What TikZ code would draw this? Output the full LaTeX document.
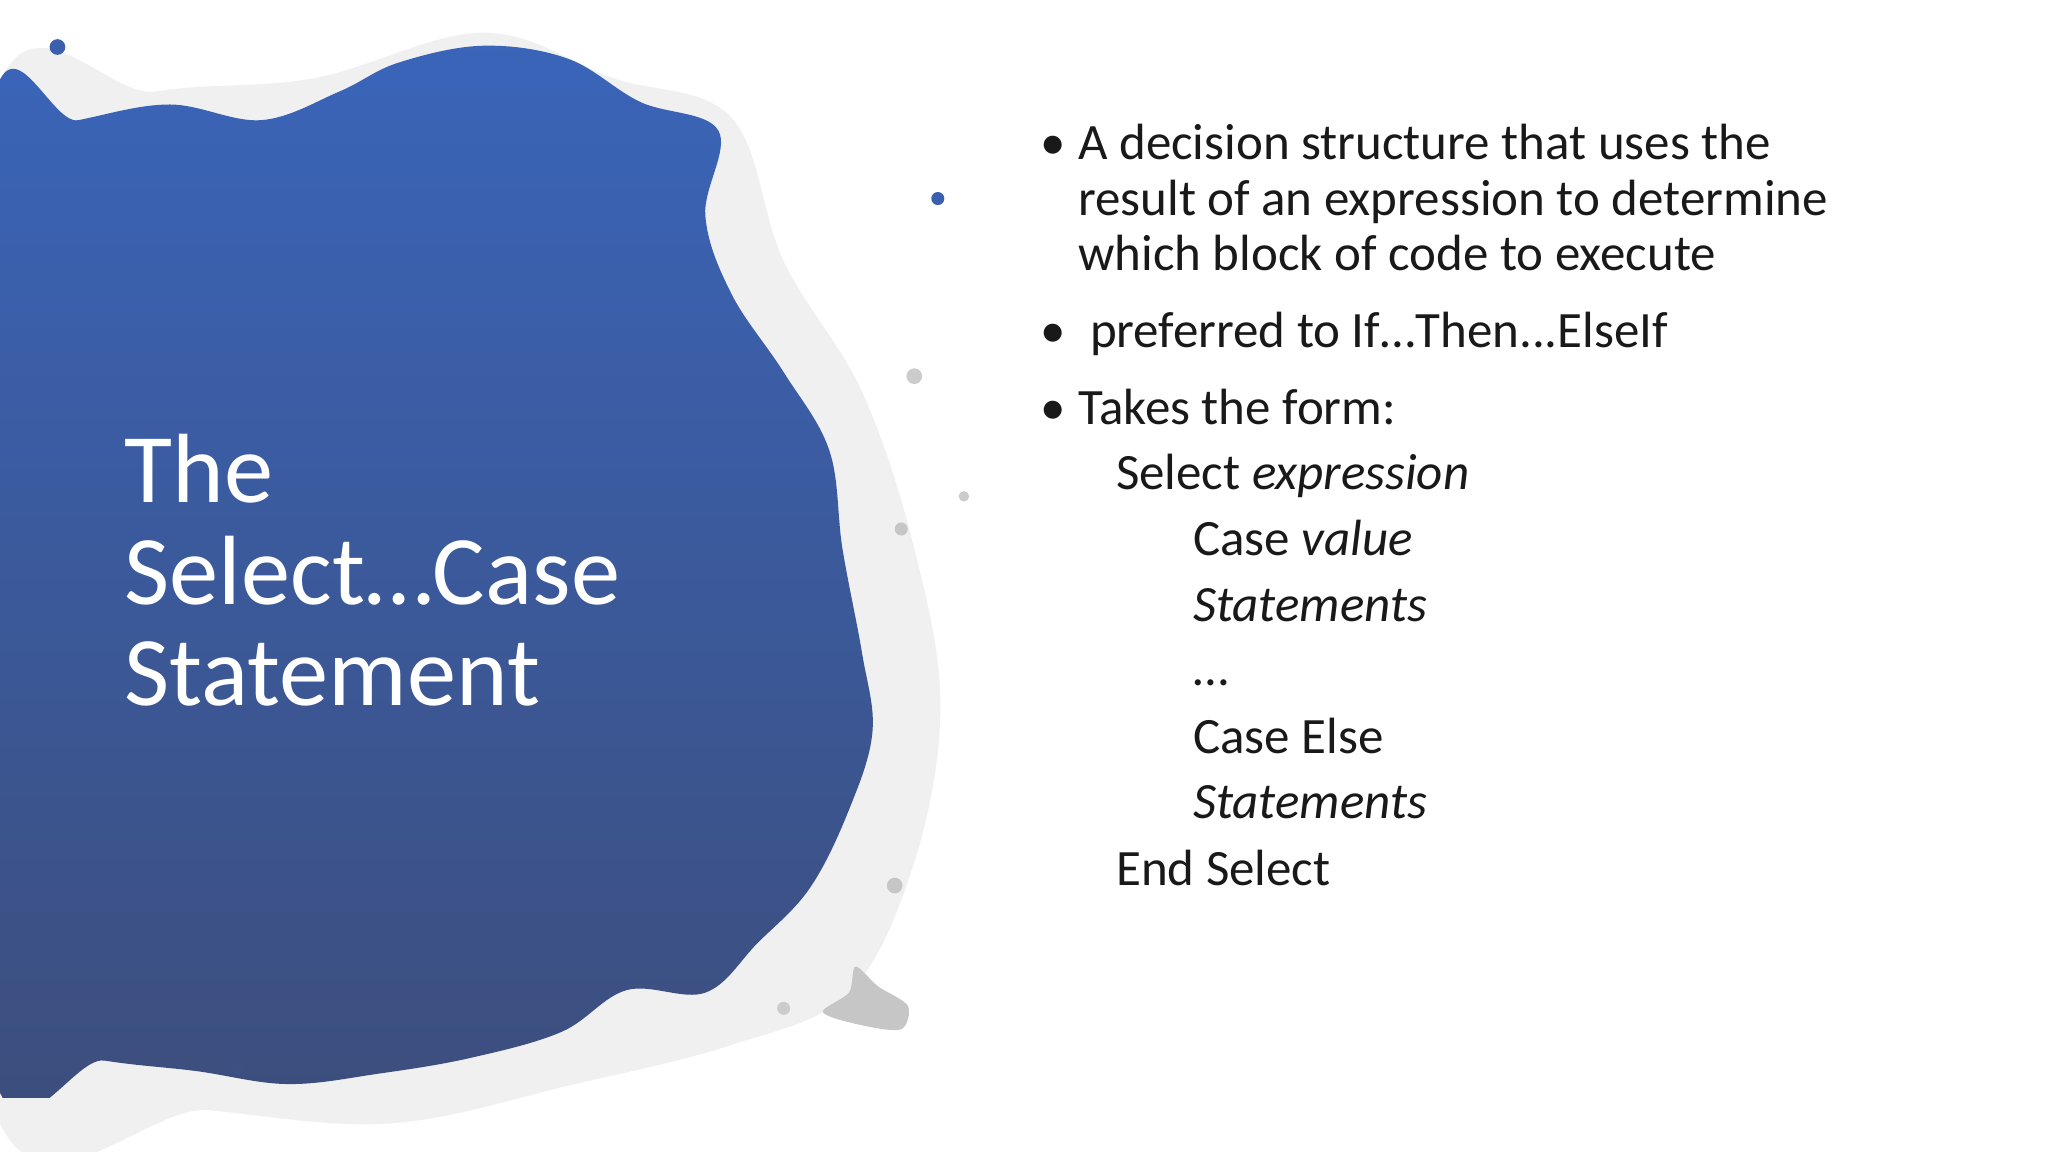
\documentclass[tikz,border=0pt]{standalone}
\usepackage{fontspec}
\setmainfont{Carlito}
\definecolor{blobtop}{RGB}{58,101,186}
\definecolor{blobbot}{RGB}{60,78,125}
\definecolor{splatblue}{RGB}{58,95,175}
\definecolor{splatdark}{RGB}{60,80,130}
\begin{document}
\begin{tikzpicture}[x=0.013061cm,y=-0.013061cm,
  bodytxt/.style={anchor=base west,inner sep=0pt,font=\fontsize{14.5pt}{16pt}\selectfont,text=black!90},
  titletxt/.style={anchor=base west,inner sep=0pt,font=\fontsize{28pt}{30pt}\selectfont,text=white}]
\useasboundingbox (0,0) rectangle (1568,882);
\fill[white] (0,0) rectangle (1568,882);
% grey halo
\fill[gray!12] plot[smooth cycle,tension=0.6] coordinates {(-10,100)(120,70)(240,60)(370,25)(470,60)(560,90)(600,200)(660,300)(700,420)(720,540)(700,660)(650,760)(560,800)(440,830)(300,860)(160,850)(-10,830)};
% blob
\begin{scope}
\clip plot[smooth cycle,tension=0.6] coordinates {(-10,108)(60,92)(130,80)(200,92)(260,70)(305,48)(370,35)(435,45)(490,78)(550,100)(540,165)(560,225)(600,285)(635,345)(645,420)(660,500)(668,560)(650,620)(620,680)(580,722)(540,760)(480,758)(430,790)(360,810)(290,822)(220,830)(150,820)(80,812)(-10,795)};
\shade[top color=blobtop,bottom color=blobbot] (-20,20) rectangle (700,840);
\end{scope}
% splatter
\fill[splatblue] (44,36) circle (6);
\fill[splatblue] (718,152) circle (5);
\fill[splatdark] (182,818) circle (5);
\fill[gray!45] (685,678) circle (6);
\fill[gray!45] (690,405) circle (5);
\fill[gray!40] (700,288) circle (6);
\fill[gray!40] (738,380) circle (4);
\fill[gray!40] (600,772) circle (5);
\fill[gray!45] plot[smooth cycle] coordinates {(655,740)(672,755)(695,770)(690,788)(660,785)(630,775)(650,760)};
% title
\node[titletxt] (t1) at (95,385) {The};
\node[titletxt] (t2) at (95,463) {Select…Case};
\node[titletxt] (t3) at (95,540) {Statement};
% bullets
\node[bodytxt] (b1) at (796,122) {•};
\node[bodytxt] (l1) at (825,122) {A decision structure that uses the};
\node[bodytxt] (l2) at (825,165) {result of an expression to determine};
\node[bodytxt] (l3) at (825,207) {which block of code to execute};
\node[bodytxt] (b2) at (796,266) {•};
\node[bodytxt] (l4) at (834,266) {preferred to If…Then...ElseIf};
\node[bodytxt] (b3) at (796,325) {•};
\node[bodytxt] (l5) at (825,325) {Takes the form:};
\node[bodytxt] (c1) at (854,375) {Select \textit{expression}};
\node[bodytxt] (c2) at (913,425) {Case \textit{value}};
\node[bodytxt] (c3) at (913,476) {\textit{Statements}};
\node[bodytxt] (c4) at (913,525) {…};
\node[bodytxt] (c5) at (913,577) {Case Else};
\node[bodytxt] (c6) at (913,627) {\textit{Statements}};
\node[bodytxt] (c7) at (854,678) {End Select};
\end{tikzpicture}
\end{document}
